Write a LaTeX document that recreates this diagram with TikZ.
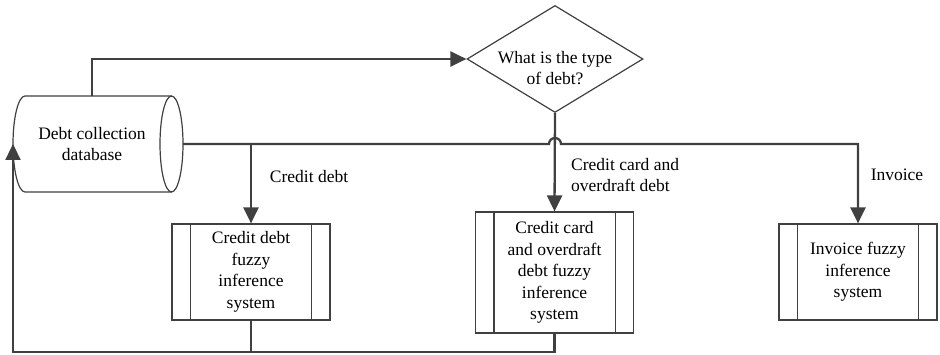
\documentclass[tikz,border=0pt]{standalone}
\usepackage{fontspec}
\setmainfont{Liberation Serif}
\usetikzlibrary{arrows.meta,shapes.geometric}
\definecolor{ln}{HTML}{404040}
\begin{document}
\begin{tikzpicture}[x=1pt,y=-1pt,
  txt/.style={font=\fontsize{17.5}{21.5}\selectfont, align=center, inner sep=0pt, text=black},
  conn/.style={draw=ln, line width=2.3pt},
  arr/.style={conn, -{Triangle[length=16pt,width=15pt]}},
  outline/.style={draw=ln, line width=1.2pt, fill=white},
  proc/.style={outline, minimum width=158pt, inner sep=0pt, txt},
  bar/.style={draw=ln, line width=1.2pt},
]
\useasboundingbox (0,0) rectangle (940,355);

% cylinder (database)
\draw[outline] (171.5,96) -- (25,96) arc[start angle=270,end angle=90,x radius=12,y radius=48] -- (171.5,192);
\draw[outline] (171.5,144) ellipse[x radius=11.5,y radius=48];
\node[txt] (db) at (92,144) {Debt collection\\database};
\coordinate (dbtop) at (92,96);
\coordinate (dbeast) at (183,144);
\coordinate (dbwest) at (13,144);

% decision
\node[diamond, outline, minimum width=176pt, minimum height=107pt, inner sep=0pt] (q) at (555,59) {};
\node[txt] (qt) at (555,68) {What is the type\\of debt?};

% processes
\node[proc, minimum height=96pt] (b1) at (251,272) {Credit debt\\fuzzy\\inference\\system};
\node[proc, minimum height=121pt] (b2) at (554.5,272.5) {Credit card\\and overdraft\\debt fuzzy\\inference\\system};
\node[proc, minimum height=96pt] (b3) at (858,272) {Invoice fuzzy\\inference\\system};
\foreach \b in {b1,b2,b3}{
  \draw[bar] ([xshift=19pt]\b.north west) -- ([xshift=19pt]\b.south west);
  \draw[bar] ([xshift=-19pt]\b.north east) -- ([xshift=-19pt]\b.south east);
}

% connectors
\coordinate (j) at (555,144);
\coordinate (bot) at (0,352);
\draw[arr] (dbtop) |- (q.west);
\draw[arr] (dbeast) -- ([xshift=-6pt]j) arc[start angle=180,end angle=360,radius=6] -- (b3.north |- j) -- (b3.north);
\draw[arr] (b1.north |- j) -- (b1.north);
\draw[arr] (q.south) -- (b2.north);
\draw[conn] (b1.south) -- (b1.south |- bot);
\draw[arr] (b2.south) -- (b2.south |- bot) -| (dbwest);

% labels
\node[txt] (l1) at (309,177) {Credit debt};
\node[txt, anchor=west, align=left] (l2) at (571,175) {Credit card and\\overdraft debt};
\node[txt] (l3) at (897,175) {Invoice};
\end{tikzpicture}
\end{document}
